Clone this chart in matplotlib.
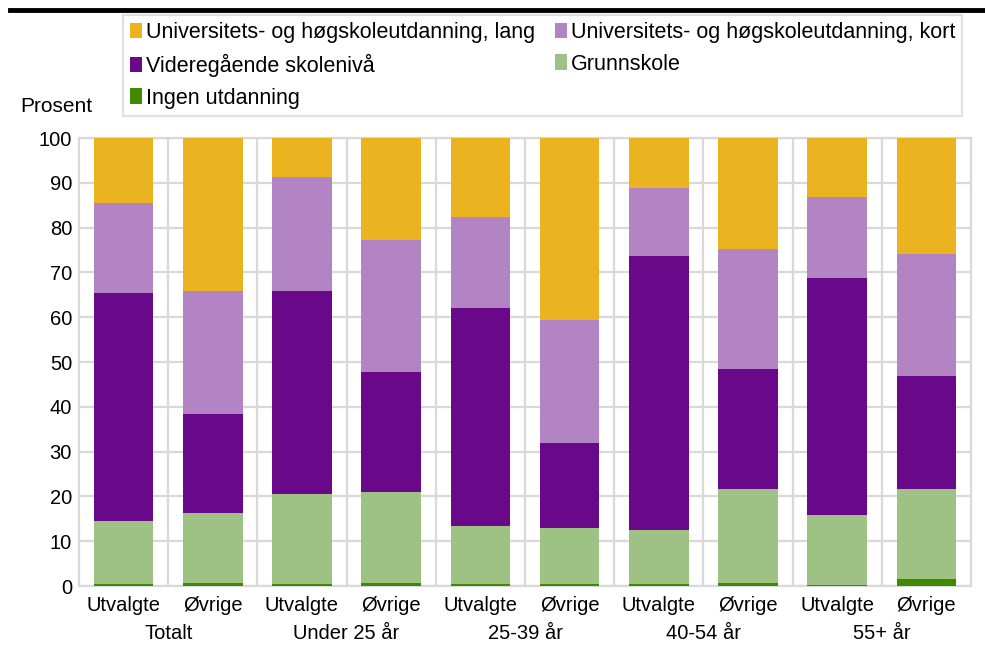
import matplotlib.pyplot as plt
import numpy as np
from matplotlib.lines import Line2D

plt.rcParams['font.family'] = ['Liberation Sans', 'DejaVu Sans']

groups = ['Totalt', 'Under 25 år', '25-39 år', '40-54 år', '55+ år']
bar_labels = ['Utvalgte', 'Øvrige'] * 5

# prosentandeler per utdanningsnivå (lest av figuren)
ingen = [0.4, 0.6, 0.5, 0.6, 0.4, 0.5, 0.4, 0.7, 0.2, 1.5]
grunnskole = [14.2, 15.6, 20.0, 20.3, 13.0, 12.4, 12.2, 21.0, 15.6, 20.2]
videregaende = [50.7, 22.3, 45.4, 26.9, 48.7, 19.1, 61.1, 26.7, 53.0, 25.2]
uni_kort = [20.1, 27.4, 25.3, 29.4, 20.3, 27.4, 15.2, 26.8, 18.0, 27.1]
uni_lang = [14.6, 34.1, 8.8, 22.8, 17.6, 40.6, 11.1, 24.8, 13.2, 26.0]

series = [
    ('Ingen utdanning', ingen, '#3f8a00'),
    ('Grunnskole', grunnskole, '#9dc283'),
    ('Videregående skolenivå', videregaende, '#690889'),
    ('Universitets- og høgskoleutdanning, kort', uni_kort, '#b384c3'),
    ('Universitets- og høgskoleutdanning, lang', uni_lang, '#ebb31f'),
]

fs = 14.5

fig = plt.figure(figsize=(9.85, 6.5), dpi=100)
ax = fig.add_axes([79 / 985, 64 / 650, 892 / 985, 448 / 650])

x = np.arange(len(bar_labels))
bottom = np.zeros(len(x))
handles = {}
for name, vals, col in series:
    bars = ax.bar(x, vals, width=0.67, bottom=bottom, color=col, zorder=3)
    handles[name] = bars
    bottom += np.array(vals)

ax.set_xlim(-0.5, len(x) - 0.5)
ax.set_ylim(0, 100)
ax.set_yticks(range(0, 101, 10))
ax.set_xticks(x)
ax.set_xticklabels(bar_labels)
ax.set_xticks(np.arange(0.5, len(x) - 0.5, 1), minor=True)
ax.tick_params(axis='both', which='both', length=0, labelsize=fs, colors='black')
ax.tick_params(axis='x', pad=7)
ax.tick_params(axis='y', pad=5)
ax.grid(True, which='major', axis='y', color='#d9d9d9', lw=1.6, zorder=0)
ax.grid(True, which='minor', axis='x', color='#d9d9d9', lw=1.6, zorder=0)
for s in ax.spines.values():
    s.set_color('#d9d9d9')
    s.set_linewidth(1.6)

for i, g in enumerate(groups):
    ax.text(2 * i + 0.5, -0.105, g, transform=ax.get_xaxis_transform(),
            ha='center', va='center', fontsize=fs)

fig.text(20 / 985, 1 - 107 / 650, 'Prosent', ha='left', va='center', fontsize=15)

order = ['Universitets- og høgskoleutdanning, lang', 'Videregående skolenivå', 'Ingen utdanning',
         'Universitets- og høgskoleutdanning, kort', 'Grunnskole']
leg = fig.legend([handles[n] for n in order], order, ncol=2, loc='upper left',
                 bbox_to_anchor=(123 / 985, 1 - 15 / 650), fontsize=15.5, frameon=True,
                 fancybox=False, edgecolor='#d9d9d9', handlelength=0.55, handleheight=0.75,
                 handletextpad=0.2, columnspacing=0.9, labelspacing=0.5,
                 borderpad=0.33, borderaxespad=0)
leg.get_frame().set_linewidth(1.6)

fig.add_artist(Line2D([10 / 985, 1], [1 - 10 / 650, 1 - 10 / 650], color='black', lw=3.5))

fig.savefig('out.png', dpi=100)
